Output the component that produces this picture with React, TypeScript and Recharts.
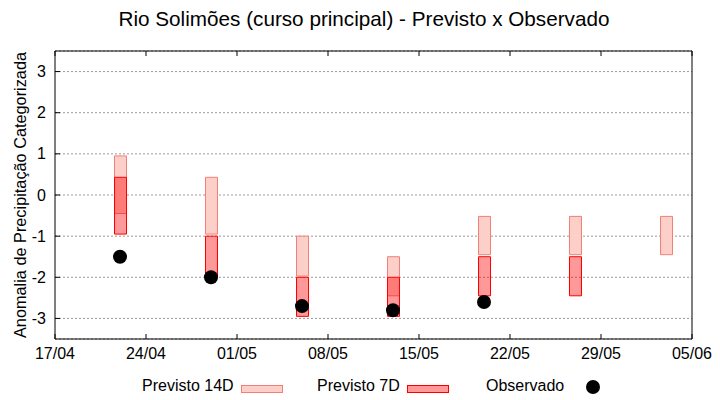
import {
  Bar,
  CartesianGrid,
  ComposedChart,
  Legend,
  Scatter,
  XAxis,
  YAxis,
} from "recharts";

// datas das previsões (semanas)
const dates = ["22/04", "29/04", "06/05", "13/05", "20/05", "27/05", "03/06"];
const prev14Low = [-0.45, -0.95, -1.97, -2.45, -1.45, -1.45, -1.45];
const prev14High = [0.95, 0.43, -1.0, -1.5, -0.52, -0.52, -0.52];
const prev7Low = [-0.95, -1.98, -2.95, -2.95, -2.45, -2.45, null];
const prev7High = [0.43, -1.0, -2.0, -2.0, -1.5, -1.5, null];
const observed = [-1.5, -2.0, -2.7, -2.8, -2.6, null, null];

const xTickLabels = ["17/04", "24/04", "01/05", "08/05", "15/05", "22/05", "29/05", "05/06"];
const yTicks = [-3, -2, -1, 0, 1, 2, 3];

const FONT = "'Liberation Sans', Arial, sans-serif";
const C14_FILL = "#fccfc9";
const C14_STROKE = "#f08078";
const C7 = "#ff0000";

const toDay = (s: string) => {
  const [d, m] = s.split("/").map(Number);
  const [d0, m0] = xTickLabels[0].split("/").map(Number);
  return Math.round((Date.UTC(2025, m - 1, d) - Date.UTC(2025, m0 - 1, d0)) / 86400000);
};

const xTicks = xTickLabels.map(toDay);
const xDomain = [xTicks[0], xTicks[xTicks.length - 1]];

const rows = dates.map((d, i) => ({
  day: toDay(d),
  p14: [prev14Low[i], prev14High[i]],
  p7: prev7Low[i] == null ? null : [prev7Low[i], prev7High[i]],
  obs: observed[i],
}));

const LeftTick = ({ x, y, payload }: any) => (
  <g>
    <line x1={x} x2={x + 5} y1={y} y2={y} stroke="#000" />
    <text x={x - 9} y={y} textAnchor="end" dominantBaseline="central" fontSize={16} fill="#000">
      {payload.value}
    </text>
  </g>
);

const RightTick = ({ x, y }: any) => <line x1={x - 5} x2={x} y1={y} y2={y} stroke="#000" />;

const BottomTick = ({ x, y, payload }: any) => (
  <g>
    <line x1={x} x2={x} y1={y - 5} y2={y} stroke="#000" />
    <text x={x} y={y + 14} textAnchor="middle" dominantBaseline="central" fontSize={16} fill="#000">
      {xTickLabels[xTicks.indexOf(payload.value)]}
    </text>
  </g>
);

const TopTick = ({ x, y }: any) => <line x1={x} x2={x} y1={y} y2={y + 5} stroke="#000" />;

const LegendBox = () => (
  <div style={{ position: "relative", width: 720, height: 30, fontFamily: FONT, fontSize: 16, color: "#000" }}>
    <span style={{ position: "absolute", left: 142, top: 6, lineHeight: "20px" }}>Previsto 14D</span>
    <div
      style={{
        position: "absolute", left: 241, top: 15, width: 40, height: 6,
        background: C14_FILL, border: `1px solid ${C14_STROKE}`,
      }}
    />
    <span style={{ position: "absolute", left: 317, top: 6, lineHeight: "20px" }}>Previsto 7D</span>
    <div
      style={{
        position: "absolute", left: 407, top: 15, width: 40, height: 6,
        background: "#ff9999", border: `1px solid ${C7}`,
      }}
    />
    <span style={{ position: "absolute", left: 486, top: 6, lineHeight: "20px" }}>Observado</span>
    <div
      style={{
        position: "absolute", left: 586, top: 10, width: 14, height: 14,
        borderRadius: 7, background: "#000",
      }}
    />
  </div>
);

export default function App() {
  return (
    <div style={{ position: "absolute", left: 0, top: 0, width: 720, height: 400, background: "#fff", fontFamily: FONT }}>
      <div
        style={{
          position: "absolute", left: 4, top: 7, width: 720, textAlign: "center",
          fontSize: 20.7, color: "#000",
        }}
      >
        Rio Solimões (curso principal) - Previsto x Observado
      </div>
      <ComposedChart
        width={720}
        height={400}
        data={rows}
        margin={{ top: 50, right: 27, bottom: 0, left: 0 }}
        style={{ fontFamily: FONT }}
      >
        <CartesianGrid vertical={false} stroke="#999" strokeDasharray="2 2" />
        <XAxis
          dataKey="day"
          type="number"
          domain={xDomain}
          ticks={xTicks}
          height={31}
          tickSize={0}
          tickMargin={0}
          tickLine={false}
          axisLine={{ stroke: "#000" }}
          tick={<BottomTick />}
          interval={0}
        />
        <XAxis
          xAxisId="top"
          orientation="top"
          dataKey="day"
          type="number"
          domain={xDomain}
          ticks={xTicks}
          height={1}
          tickSize={0}
          tickMargin={0}
          tickLine={false}
          axisLine={{ stroke: "#000" }}
          tick={<TopTick />}
          interval={0}
        />
        <YAxis
          type="number"
          domain={[-3.5, 3.5]}
          ticks={yTicks}
          width={55}
          tickSize={0}
          tickMargin={0}
          tickLine={false}
          axisLine={{ stroke: "#000" }}
          tick={<LeftTick />}
          interval={0}
          label={{
            value: "Anomalia de Precipitação Categorizada",
            angle: -90,
            position: "center",
            dx: -7,
            fontSize: 16.3,
            fill: "#000",
          }}
        />
        <YAxis
          yAxisId="r"
          orientation="right"
          type="number"
          domain={[-3.5, 3.5]}
          ticks={yTicks}
          width={1}
          tickSize={0}
          tickMargin={0}
          tickLine={false}
          axisLine={{ stroke: "#000" }}
          tick={<RightTick />}
          interval={0}
        />
        <Bar
          dataKey="p14"
          name="Previsto 14D"
          barSize={12}
          fill={C14_FILL}
          stroke={C14_STROKE}
          strokeWidth={1}
          isAnimationActive={false}
        />
        <Bar
          xAxisId="top"
          dataKey="p7"
          name="Previsto 7D"
          barSize={12}
          fill={C7}
          fillOpacity={0.4}
          stroke={C7}
          strokeWidth={1}
          isAnimationActive={false}
        />
        <Scatter
          data={rows.filter((r) => r.obs != null)}
          dataKey="obs"
          name="Observado"
          fill="#000"
          isAnimationActive={false}
          shape={(p: any) => <circle cx={p.cx} cy={p.cy} r={7} fill="#000" />}
        />
        <Legend
          content={<LegendBox />}
          wrapperStyle={{ left: 0, bottom: 0, width: 720, height: 30 }}
        />
      </ComposedChart>
    </div>
  );
}
